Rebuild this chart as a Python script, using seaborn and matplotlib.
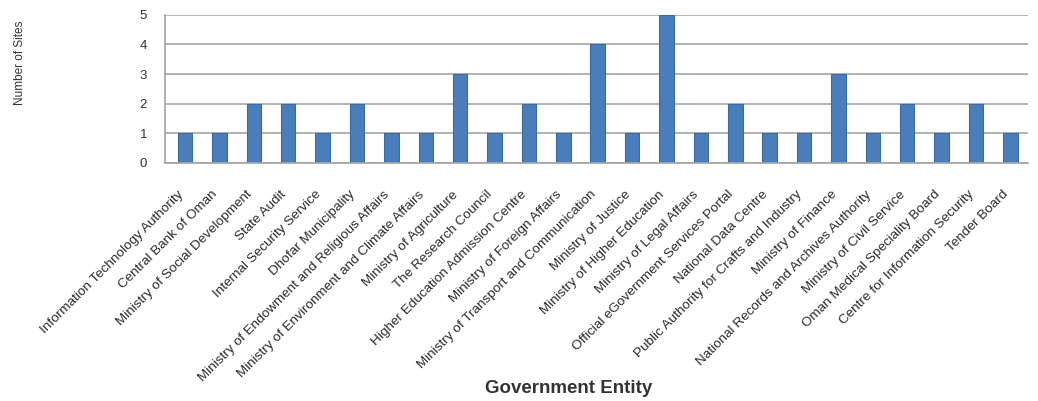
import matplotlib
matplotlib.use("Agg")
import matplotlib.pyplot as plt
import matplotlib.transforms as mtransforms
import seaborn as sns
import pandas as pd

entities = [
    "Information Technology Authority", "Central Bank of Oman", "Ministry of Social Development",
    "State Audit", "Internal Security Service", "Dhofar Municipality",
    "Ministry of Endowment and Religious Affairs", "Ministry of Environment and Climate Affairs",
    "Ministry of Agriculture", "The Research Council", "Higher Education Admission Centre",
    "Ministry of Foreign Affairs", "Ministry of Transport and Communication", "Ministry of Justice",
    "Ministry of Higher Education", "Ministry of Legal Affairs", "Official eGovernment Services Portal",
    "National Data Centre", "Public Authority for Crafts and Industry", "Ministry of Finance",
    "National Records and Archives Authority", "Ministry of Civil Service",
    "Oman Medical Speciality Board", "Centre for Information Security", "Tender Board",
]
sites = [1, 1, 2, 2, 1, 2, 1, 1, 3, 1, 2, 1, 4, 1, 5, 1, 2, 1, 1, 3, 1, 2, 1, 2, 1]
y_ticks = [0, 1, 2, 3, 4, 5]

df = pd.DataFrame({"entity": entities, "sites": sites})

sns.set_theme(style="white")
plt.rcParams["font.family"] = ["Liberation Sans", "DejaVu Sans"]

fig = plt.figure(figsize=(10.38, 4.01), dpi=100)
ax = fig.add_axes([0.159, 0.594, 0.831, 0.369])

sns.barplot(data=df, x="entity", y="sites", color="#4a7ebb", width=0.42,
            edgecolor="#3a6aa5", linewidth=0.8, ax=ax, saturation=1)

ax.set_ylim(0, 5)
ax.set_xlim(-0.58, len(entities) - 0.54)
ax.set_yticks(y_ticks)
ax.set_yticklabels([str(v) for v in y_ticks], fontsize=9.5, color="#333333")
ax.yaxis.grid(True, color="#a6a6a6", linewidth=1.2)
ax.set_axisbelow(True)
for s in ["top", "right"]:
    ax.spines[s].set_visible(False)
ax.spines["left"].set_color("#a6a6a6")
ax.spines["bottom"].set_color("#a6a6a6")
ax.tick_params(axis="y", length=3, color="#a6a6a6", pad=10)
ax.tick_params(axis="x", length=0, pad=13.5)
ax.set_xticks(range(len(entities)))
ax.set_xticklabels(entities, rotation=45, ha="right", rotation_mode="anchor",
                   fontsize=9.7, color="#2a2a2a")
shift = mtransforms.ScaledTranslation(-0.08, -0.07, fig.dpi_scale_trans)
for lbl in ax.get_xticklabels():
    lbl.set_transform(lbl.get_transform() + shift)
ax.set_xticks([i + 0.5 for i in range(-1, len(entities))], minor=True)
ax.tick_params(axis="x", which="minor", length=4, color="#a6a6a6")
ax.set_xlabel("")
ax.set_ylabel("")

fig.text(0.019, 0.843, "Number of Sites", rotation=90, fontsize=8.5, color="#333333",
         ha="center", va="center")
fig.text(0.548, 0.032, "Government Entity", fontsize=13.5, fontweight="bold",
         color="#333333", ha="center", va="center")

fig.savefig("out.png", dpi=100)
